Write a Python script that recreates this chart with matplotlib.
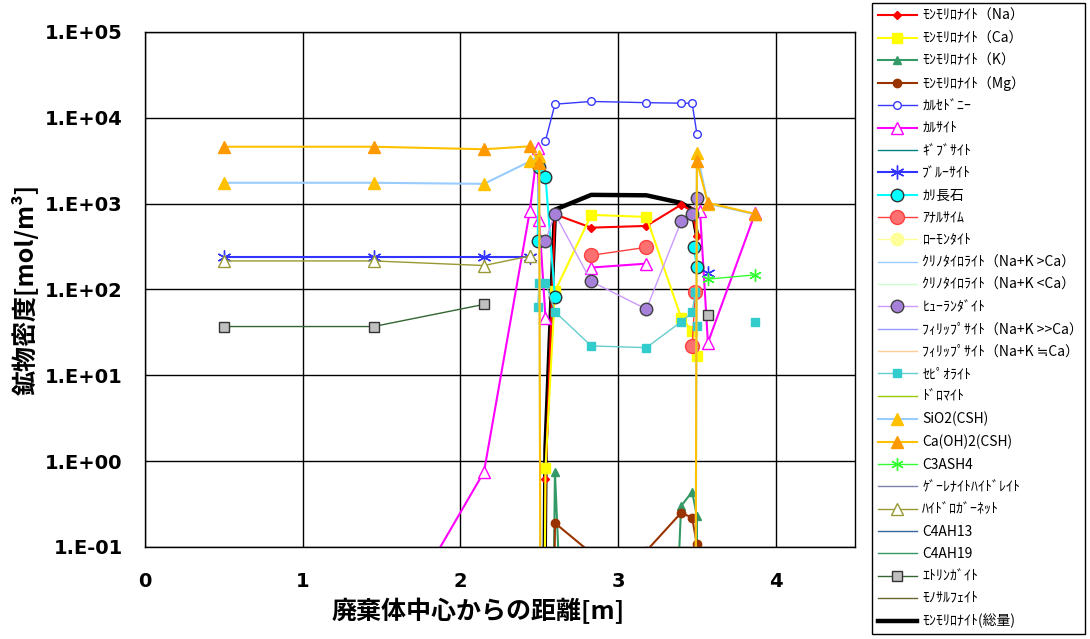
import numpy as np
import matplotlib
matplotlib.use('Agg')
import matplotlib.pyplot as plt
from matplotlib.ticker import FixedLocator, FuncFormatter

plt.rcParams['font.family'] = ['Noto Sans CJK JP', 'DejaVu Sans']

nan = np.nan

# --- data (1e-10 = below the plotted range, nan = gap) ---
na_x = [2.50, 2.54, 2.60, 2.83, 3.18, 3.40, 3.47, 3.50]
na_y = [1e-10, 0.62, 750, 525, 550, 970, 820, 420]

ca_x = [2.50, 2.54, 2.60, 2.83, 3.18, 3.40, 3.47, 3.50]
ca_y = [1e-10, 0.83, 95, 740, 700, 47, 33, 16.6]

k_x = [2.54, 2.60, 2.83, 3.18, 3.40, 3.47, 3.50, 3.52]
k_y = [1e-10, 0.74, 1e-10, 1e-10, 0.30, 0.44, 0.23, 1e-10]

mg_x = [2.54, 2.60, 2.83, 3.18, 3.40, 3.47, 3.50, 3.52]
mg_y = [1e-10, 0.19, 0.085, 0.09, 0.25, 0.22, 0.107, 1e-10]

chalc_x = [2.54, 2.60, 2.83, 3.18, 3.40, 3.47, 3.50]
chalc_y = [5400, 14400, 15500, 15000, 14800, 14800, 6500]

calc_x = [0.5, 1.45, 2.15, 2.44, 2.49, 2.50, 2.54, 2.60, 2.83, 3.18, 3.40, 3.52, 3.57, 3.87]
calc_y = [0.004, 0.0046, 0.75, 810, 4400, 650, 47, nan, 180, 200, nan, 810, 24, 780]

bruc_x = [0.5, 1.45, 2.15, 2.44, 2.50, 3.57]
bruc_y = [240, 240, 240, 240, nan, 155]

kfel_x = [2.49, 2.50, 2.54, 2.60, 2.83, 3.48, 3.50]
kfel_y = [365, 2700, 2050, 81, nan, 310, 185]

anal_x = [2.83, 3.18, 3.40, 3.47, 3.49]
anal_y = [250, 310, nan, 22, 93]

heul_x = [2.54, 2.60, 2.83, 3.18, 3.40, 3.47, 3.50]
heul_y = [370, 760, 124, 59, 620, 750, 1170]

sepi_x = [2.49, 2.50, 2.54, 2.60, 2.83, 3.18, 3.40, 3.47, 3.49, 3.50, 3.57, 3.87]
sepi_y = [62, 120, 120, 55, 22, 21, 42, 54, 93, 38, nan, 42]

sio2_x = [0.5, 1.45, 2.15, 2.44, 2.50, 2.52, 3.48, 3.50, 3.57, 3.87]
sio2_y = [1750, 1750, 1700, 3100, 3600, 1e-10, 1e-10, 3900, 1000, 750]

caoh_x = [0.5, 1.45, 2.15, 2.44, 2.50, 2.52, 3.48, 3.50, 3.57, 3.87]
caoh_y = [4600, 4600, 4300, 4650, 3000, 1e-10, 1e-10, 3100, 1020, 760]

c3ash4_x = [3.57, 3.87]
c3ash4_y = [132, 148]

hgar_x = [0.5, 1.45, 2.15, 2.44]
hgar_y = [215, 215, 190, 245]

ettr_x = [0.5, 1.45, 2.15, 2.50, 3.57]
ettr_y = [37, 37, 67, nan, 51]

total_x = [2.50, 2.54, 2.60, 2.83, 3.18, 3.40, 3.47, 3.50]
total_y = [1e-10, 1.4, 850, 1265, 1250, 1020, 855, 437]

empty = []

fig = plt.figure(figsize=(10.9, 6.39), dpi=100)
ax = fig.add_axes([0.133, 0.144, 0.651, 0.806])

handles = []
def add(label, x, y, z=2, **kw):
    h, = ax.plot(x, y, label=label, zorder=z, **kw)
    handles.append(h)

add('ﾓﾝﾓﾘﾛﾅｲﾄ（Na）', na_x, na_y, color='#FF0000', lw=1.5, marker='D', ms=4)
add('ﾓﾝﾓﾘﾛﾅｲﾄ（Ca）', ca_x, ca_y, color='#FFFF00', lw=1.5, marker='s', ms=7)
add('ﾓﾝﾓﾘﾛﾅｲﾄ（K）', k_x, k_y, color='#339966', lw=1.5, marker='^', ms=6)
add('ﾓﾝﾓﾘﾛﾅｲﾄ（Mg）', mg_x, mg_y, color='#993300', lw=1.5, marker='o', ms=6)
add('ｶﾙｾﾄﾞﾆｰ', chalc_x, chalc_y, color='#3838FF', lw=1, marker='o', ms=5.5,
    mfc='white', mec='#3838FF')
add('ｶﾙｻｲﾄ', calc_x, calc_y, color='#FF00FF', lw=1.5, marker='^', ms=8,
    mfc='white', mec='#FF00FF')
add('ｷﾞﾌﾞｻｲﾄ', empty, empty, color='#008080', lw=1)
add('ﾌﾞﾙｰｻｲﾄ', bruc_x, bruc_y, color='#3333FF', lw=1.5, marker=(6, 2, 0), ms=10)
add('ｶﾘ長石', kfel_x, kfel_y, color='#00FFFF', lw=1.5, marker='o', ms=9,
    mfc='#00FFFF', mec='#333333')
add('ｱﾅﾙｻｲﾑ', anal_x, anal_y, color='#FF4040', lw=1, marker='o', ms=10,
    mfc='#FF7070', mec='#FF4040')
add('ﾛｰﾓﾝﾀｲﾄ', empty, empty, color='#FFFF99', lw=1, marker='o', ms=9,
    mfc='#FFFF99', mec='#FFFF99')
add('ｸﾘﾉﾀｲﾛﾗｲﾄ（Na+K >Ca）', empty, empty, color='#99CCFF', lw=1)
add('ｸﾘﾉﾀｲﾛﾗｲﾄ（Na+K <Ca）', empty, empty, color='#CCFFCC', lw=1)
add('ﾋｭｰﾗﾝﾀﾞｲﾄ', heul_x, heul_y, color='#CC99FF', lw=1, marker='o', ms=9,
    mfc='#A680D9', mec='#404040')
add('ﾌｨﾘｯﾌﾟｻｲﾄ（Na+K >>Ca）', empty, empty, color='#9999FF', lw=1)
add('ﾌｨﾘｯﾌﾟｻｲﾄ（Na+K ≒Ca）', empty, empty, color='#FFCC99', lw=1)
add('ｾﾋﾟｵﾗｲﾄ', sepi_x, sepi_y, color='#66CCCC', lw=1, marker='s', ms=6,
    mfc='#33CCCC', mec='#33CCCC')
add('ﾄﾞﾛﾏｲﾄ', empty, empty, color='#99CC00', lw=1)
add('SiO2(CSH)', sio2_x, sio2_y, color='#99CCFF', lw=1.5, marker='^', ms=8,
    mfc='#FFC000', mec='#FFC000')
add('Ca(OH)2(CSH)', caoh_x, caoh_y, color='#FFC000', lw=1.5, marker='^', ms=8,
    mfc='#FF9900', mec='#FF9900')
add('C3ASH4', c3ash4_x, c3ash4_y, color='#33FF33', lw=1, marker=(6, 2, 0), ms=9)
add('ｹﾞｰﾚﾅｲﾄﾊｲﾄﾞﾚｲﾄ', empty, empty, color='#8080B0', lw=1)
add('ﾊｲﾄﾞﾛｶﾞｰﾈｯﾄ', hgar_x, hgar_y, color='#999933', lw=1, marker='^', ms=8,
    mfc='white', mec='#999933')
add('C4AH13', empty, empty, color='#336699', lw=1)
add('C4AH19', empty, empty, color='#339966', lw=1)
add('ｴﾄﾘﾝｶﾞｲﾄ', ettr_x, ettr_y, color='#336633', lw=1, marker='s', ms=7,
    mfc='#C0C0C0', mec='#333333')
add('ﾓﾉｻﾙﾌｪｲﾄ', empty, empty, color='#666633', lw=1)
add('ﾓﾝﾓﾘﾛﾅｲﾄ(総量)', total_x, total_y, z=1.5, color='black', lw=3.2)

ax.set_yscale('log')
ax.set_ylim(0.1, 1e5)
ax.set_xlim(0, 4.5)
ax.set_xticks([0, 1, 2, 3, 4])
ax.yaxis.set_major_locator(FixedLocator([1e-1, 1, 1e1, 1e2, 1e3, 1e4, 1e5]))
ax.yaxis.set_minor_locator(FixedLocator([]))
ax.yaxis.set_major_formatter(FuncFormatter(lambda v, p: '1.E%+03d' % int(round(np.log10(v)))))
ax.grid(True, color='black', lw=1)
ax.set_axisbelow(True)
for s in ax.spines.values():
    s.set_color('black')
    s.set_linewidth(1)
ax.tick_params(axis='y', length=0, pad=16)
ax.tick_params(axis='x', length=0, pad=18)
for t in ax.get_xticklabels() + ax.get_yticklabels():
    t.set_fontfamily('DejaVu Sans')
    t.set_fontweight('bold')
    t.set_fontsize(14)

ax.set_xlabel('廃棄体中心からの距離[m]', fontsize=18, fontweight='bold')
ax.xaxis.set_label_coords(0.47, -0.098)
ax.set_ylabel('鉱物密度[mol/m³]', fontsize=18, fontweight='bold')
ax.yaxis.set_label_coords(-0.15, 0.5)

leg = fig.legend(handles=handles, loc='upper left', bbox_to_anchor=(0.8, 0.005, 0.1954, 0.99),
                 mode='expand', borderaxespad=0, fancybox=False, edgecolor='black', fontsize=10,
                 labelspacing=0.6, handlelength=2.8, handletextpad=0.4,
                 borderpad=0.42, numpoints=1, framealpha=1)
leg.get_frame().set_linewidth(1)

fig.savefig('out.png', dpi=100)
